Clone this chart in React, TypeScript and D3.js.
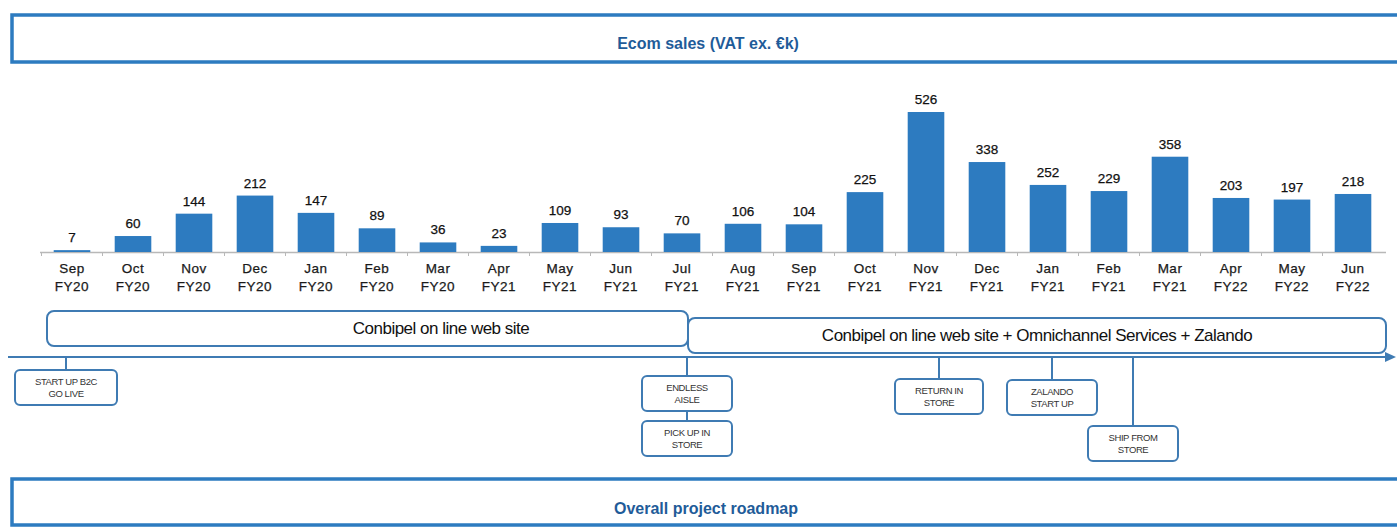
import * as d3 from "d3";

const months = ["Sep", "Oct", "Nov", "Dec", "Jan", "Feb", "Mar", "Apr", "May", "Jun", "Jul", "Aug", "Sep", "Oct", "Nov", "Dec", "Jan", "Feb", "Mar", "Apr", "May", "Jun"];
const fiscalYears = ["FY20", "FY20", "FY20", "FY20", "FY20", "FY20", "FY20", "FY21", "FY21", "FY21", "FY21", "FY21", "FY21", "FY21", "FY21", "FY21", "FY21", "FY21", "FY21", "FY22", "FY22", "FY22"];
const sales = [7, 60, 144, 212, 147, 89, 36, 23, 109, 93, 70, 106, 104, 225, 526, 338, 252, 229, 358, 203, 197, 218];

const phases = ["Conbipel on line web site", "Conbipel on line web site + Omnichannel Services + Zalando"];
// milestone labels, [line1, line2]
const milestones = [
  ["START UP B2C", "GO LIVE"],
  ["ENDLESS", "AISLE"],
  ["PICK UP IN", "STORE"],
  ["RETURN IN", "STORE"],
  ["ZALANDO", "START UP"],
  ["SHIP FROM", "STORE"],
];

const W = 1397;
const H = 529;
const BLUE = "#2d7bc0";
const LINE = "#3f7bb3";
const TITLE = "#1f5c99";
const NARROW = "'Liberation Sans Narrow', 'Arial Narrow', 'Liberation Sans', sans-serif";

const keys = months.map((m, i) => `${m} ${fiscalYears[i]} ${i}`);

export default function App() {
  const x = d3.scaleBand().domain(keys).range([41.5, 1383.5]).paddingInner(0.4).paddingOuter(0.2);
  const y = d3.scaleLinear().domain([0, 526]).range([252, 112]);
  const base = y(0);
  const step = x.step();

  const tlY = 357;
  // milestone boxes: centre x, top, where the connector starts
  const boxes = [
    { cx: 66, top: 370, from: tlY },
    { cx: 687, top: 376, from: tlY },
    { cx: 687, top: 421, from: 411 },
    { cx: 939, top: 379, from: tlY },
    { cx: 1052, top: 380, from: tlY },
    { cx: 1133, top: 426, from: tlY },
  ];
  const bw = [102, 90, 90, 88, 90, 90];
  const bh = 35;

  return (
    <svg width={W} height={H} style={{ position: "absolute", left: 0, top: 0, background: "#fff" }}
      fontFamily="'Liberation Sans', Arial, sans-serif">
      <rect x={12} y={15} width={W} height={47} fill="none" stroke={BLUE} strokeWidth={3.5} />
      <text x={708} y={49} textAnchor="middle" fontSize={16} fontWeight="bold" fill={TITLE}>
        Ecom sales (VAT ex. €k)
      </text>

      {/* axis */}
      <line x1={40} x2={1386} y1={base + 0.5} y2={base + 0.5} stroke="#b8b8b8" strokeWidth={1.5} />
      {keys.map((k) => (
        <line key={"t" + k} x1={(x(k) as number) - step * 0.2} x2={(x(k) as number) - step * 0.2}
          y1={base} y2={base + 4} stroke="#b8b8b8" strokeWidth={1} />
      ))}

      {sales.map((v, i) => {
        const k = keys[i];
        const bx = x(k) as number;
        const cx = bx + x.bandwidth() / 2;
        return (
          <g key={k}>
            <rect x={bx} y={y(v)} width={x.bandwidth()} height={base - y(v)} fill={BLUE} />
            <text x={cx} y={y(v) - 8} textAnchor="middle" fontSize={13.5} fill="#111" stroke="#111" strokeWidth={0.25}>{v}</text>
            <text x={cx} y={273} textAnchor="middle" fontSize={13.5} fill="#1a1a1a" stroke="#1a1a1a" strokeWidth={0.25} letterSpacing={0.5}>{months[i]}</text>
            <text x={cx} y={291} textAnchor="middle" fontSize={13.5} fill="#1a1a1a" stroke="#1a1a1a" strokeWidth={0.25} letterSpacing={0.5}>{fiscalYears[i]}</text>
          </g>
        );
      })}

      {/* phases */}
      <rect x={47} y={311} width={641} height={35} rx={7} fill="#fff" stroke={LINE} strokeWidth={2} />
      <text x={441} y={334} textAnchor="middle" fontSize={17} letterSpacing={-0.5} fill="#111" fontFamily={NARROW}>{phases[0]}</text>
      <rect x={688} y={318} width={698} height={35} rx={7} fill="#fff" stroke={LINE} strokeWidth={2} />
      <text x={1037} y={341} textAnchor="middle" fontSize={17} letterSpacing={-0.5} fill="#111" fontFamily={NARROW}>{phases[1]}</text>

      {/* timeline */}
      <line x1={8} x2={1386} y1={tlY} y2={tlY} stroke={LINE} strokeWidth={2} />
      <path d={`M1396,${tlY} L1385,${tlY - 5} L1385,${tlY + 5} Z`} fill={LINE} />

      {milestones.map((m, i) => {
        const b = boxes[i];
        const w = bw[i];
        return (
          <g key={m.join()}>
            <line x1={b.cx} x2={b.cx} y1={b.from} y2={b.top} stroke={LINE} strokeWidth={2} />
            <rect x={b.cx - w / 2} y={b.top} width={w} height={bh} rx={5} fill="#fff" stroke={LINE} strokeWidth={2} />
            <text x={b.cx} y={b.top + 15} textAnchor="middle" fontSize={9.5} letterSpacing={-0.4} fill="#333" fontFamily={NARROW}>{m[0]}</text>
            <text x={b.cx} y={b.top + 27} textAnchor="middle" fontSize={9.5} letterSpacing={-0.4} fill="#333" fontFamily={NARROW}>{m[1]}</text>
          </g>
        );
      })}

      <rect x={12} y={479} width={W} height={46} fill="none" stroke={BLUE} strokeWidth={3.5} />
      <text x={706} y={514} textAnchor="middle" fontSize={16} fontWeight="bold" fill={TITLE}>
        Overall project roadmap
      </text>
    </svg>
  );
}
